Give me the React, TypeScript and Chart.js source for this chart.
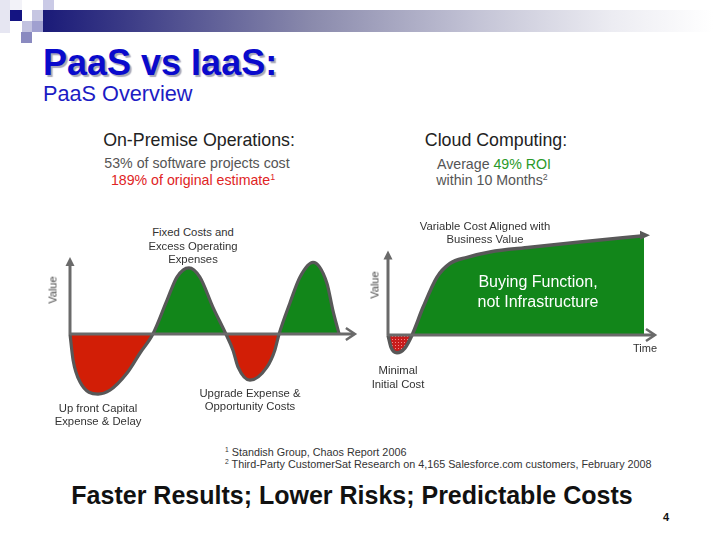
import React, { useEffect, useRef } from "react";
import { Chart, registerables } from "chart.js";

Chart.register(...registerables);

// ---- Data ----
// On-Premise Operations: value over time (arbitrary units, time 0..10)
const leftTime = [0, 0.11, 0.35, 0.99, 1.41, 2.01, 2.47, 2.93, 3.43, 3.78, 4.2, 4.59, 5.05, 5.51, 5.76, 5.94, 6.36, 6.96, 7.24, 7.39, 7.77, 8.13, 8.59, 9.08, 9.29, 9.51];
const leftValue = [0, -34, -62, -78, -73, -51, -25, 0, 44, 74, 86, 74, 35, 0, -21, -43, -60, -43, -21, 0, 40, 74, 93, 66, 31, 0];

// Cloud Computing: value over time
const rightTime = [0, 0.12, 0.35, 0.66, 0.94, 1.37, 1.91, 2.42, 3.09, 3.98, 5.55, 7.5, 10];
const rightValue = [0, -16, -23, -17, 0, 36, 75, 93, 101, 108, 114, 121, 129];

const FONT = "'Liberation Sans', Arial, Helvetica, sans-serif";
const GREEN = "#12861a";
const RED = "#d21e06";
const OUTLINE = "#585858";
const AXIS = "#6a6a6a";

const axesPlugin = {
  id: "axesArrows",
  afterDatasetsDraw(chart: any, _args: any, opts: any) {
    const { ctx, scales } = chart;
    const xs = scales.x;
    const ys = scales.y;
    const x0 = xs.getPixelForValue(0);
    const y0 = ys.getPixelForValue(0);
    const xe = xs.getPixelForValue(opts.xEnd);
    const yt = ys.getPixelForValue(opts.yEnd);
    ctx.save();
    ctx.strokeStyle = AXIS;
    ctx.fillStyle = AXIS;
    ctx.lineWidth = 3;
    ctx.lineCap = "butt";
    // x axis
    ctx.beginPath();
    ctx.moveTo(x0, y0);
    ctx.lineTo(xe - 1, y0);
    ctx.stroke();
    ctx.lineWidth = 2.5;
    ctx.beginPath();
    ctx.moveTo(xe - 9, y0 - 6);
    ctx.lineTo(xe, y0);
    ctx.lineTo(xe - 9, y0 + 6);
    ctx.stroke();
    // y axis
    ctx.lineWidth = 3;
    ctx.beginPath();
    ctx.moveTo(x0, y0);
    ctx.lineTo(x0, yt + 6);
    ctx.stroke();
    ctx.beginPath();
    ctx.moveTo(x0 - 4.5, yt + 9);
    ctx.lineTo(x0, yt);
    ctx.lineTo(x0 + 4.5, yt + 9);
    ctx.closePath();
    ctx.fill();
    // arrow at the end of the curve
    if (opts.curveArrow) {
      const meta = chart.getDatasetMeta(0);
      const pts = meta.data;
      const last = pts[pts.length - 1];
      const px = last.x + 4;
      const py = last.y;
      ctx.fillStyle = OUTLINE;
      ctx.beginPath();
      ctx.moveTo(px - 8, py - 5);
      ctx.lineTo(px + 2, py - 0.5);
      ctx.lineTo(px - 8, py + 4);
      ctx.closePath();
      ctx.fill();
    }
    ctx.restore();
  },
};

function makeDotPattern(): CanvasPattern | string {
  const pc = document.createElement("canvas");
  pc.width = 3;
  pc.height = 3;
  const p = pc.getContext("2d");
  if (!p) return RED;
  p.fillStyle = "#c81c1c";
  p.fillRect(0, 0, 3, 3);
  p.fillStyle = "#f08a8a";
  p.fillRect(1, 1, 1, 1);
  const pat = p.createPattern(pc, "repeat");
  return pat || RED;
}

type ChartBoxProps = {
  left: number;
  top: number;
  width: number;
  height: number;
  build: () => any;
};

function ChartBox({ left, top, width, height, build }: ChartBoxProps) {
  const ref = useRef<HTMLCanvasElement | null>(null);
  useEffect(() => {
    if (!ref.current) return;
    const chart = new Chart(ref.current, build());
    return () => chart.destroy();
  }, []);
  return (
    <canvas
      ref={ref}
      width={width}
      height={height}
      style={{ position: "absolute", left, top, width, height }}
    />
  );
}

function buildLeft() {
  return {
    type: "line",
    data: {
      datasets: [
        {
          data: leftTime.map((t, i) => ({ x: t, y: leftValue[i] })),
          borderColor: OUTLINE,
          borderWidth: 3.2,
          pointRadius: 0,
          cubicInterpolationMode: "monotone",
          fill: { target: "origin", above: GREEN, below: RED },
          clip: false,
        },
      ],
    },
    options: {
      responsive: false,
      animation: false,
      events: [],
      layout: { padding: { left: 30, right: 10, top: 17, bottom: 4 } },
      scales: {
        x: { type: "linear", min: 0, max: 10.25, display: false },
        y: { type: "linear", min: -100, max: 100, display: false },
      },
      plugins: {
        legend: { display: false },
        tooltip: { enabled: false },
        axesArrows: { xEnd: 10.07, yEnd: 100, curveArrow: false },
      },
    },
    plugins: [axesPlugin],
  };
}

function buildRight() {
  return {
    type: "line",
    data: {
      datasets: [
        {
          data: rightTime.map((t, i) => ({ x: t, y: rightValue[i] })),
          borderColor: OUTLINE,
          borderWidth: 3.5,
          pointRadius: 0,
          cubicInterpolationMode: "monotone",
          fill: { target: "origin", above: GREEN, below: makeDotPattern() },
          clip: false,
        },
      ],
    },
    options: {
      responsive: false,
      animation: false,
      events: [],
      layout: { padding: { left: 18, right: 10, top: 5, bottom: 5 } },
      scales: {
        x: { type: "linear", min: 0, max: 10.625, display: false },
        y: { type: "linear", min: -32.5, max: 130, display: false },
      },
      plugins: {
        legend: { display: false },
        tooltip: { enabled: false },
        axesArrows: { xEnd: 10.43, yEnd: 110, curveArrow: true },
      },
    },
    plugins: [axesPlugin],
  };
}

type TxtProps = {
  x: number;
  baseline: number;
  size: number;
  align?: "left" | "center";
  color?: string;
  bold?: boolean;
  children: React.ReactNode;
  style?: React.CSSProperties;
};

function Txt({ x, baseline, size, align = "center", color = "#333", bold, children, style }: TxtProps) {
  return (
    <div
      style={{
        position: "absolute",
        left: x,
        top: baseline - 0.8465 * size,
        fontSize: size,
        lineHeight: `${size}px`,
        fontFamily: FONT,
        fontWeight: bold ? 700 : 400,
        color,
        whiteSpace: "nowrap",
        transform: align === "center" ? "translateX(-50%)" : undefined,
        ...style,
      }}
    >
      {children}
    </div>
  );
}

function Rot({ cx, cy, size, children }: { cx: number; cy: number; size: number; children: React.ReactNode }) {
  return (
    <div
      style={{
        position: "absolute",
        left: cx,
        top: cy,
        fontSize: size,
        lineHeight: `${size}px`,
        fontFamily: FONT,
        color: "#444",
        whiteSpace: "nowrap",
        transform: "translate(-50%, -50%) rotate(-90deg)",
      }}
    >
      {children}
    </div>
  );
}

function Sq({ x, y, w, h, c }: { x: number; y: number; w: number; h: number; c: string }) {
  return <div style={{ position: "absolute", left: x, top: y, width: w, height: h, background: c }} />;
}

export default function App() {
  const sup = { fontSize: "0.62em", verticalAlign: "0.55em", lineHeight: 0 } as React.CSSProperties;
  return (
    <div
      style={{
        position: "absolute",
        left: 0,
        top: 0,
        width: 720,
        height: 540,
        background: "#ffffff",
        overflow: "hidden",
      }}
    >
      {/* header decoration */}
      <div
        style={{
          position: "absolute",
          left: 43,
          top: 10,
          width: 670,
          height: 22,
          background:
            "linear-gradient(to right, #1a1a78 0%, #3a3a86 12%, #8a8aac 40%, #c4c4d6 65%, #ececf2 85%, #ffffff 100%)",
        }}
      />
      <Sq x={0} y={0} w={10} h={33} c="#e6e6f2" />
      <Sq x={10} y={0} w={12} h={10} c="#f2f2f8" />
      <Sq x={10} y={10} w={12} h={11} c="#141482" />
      <Sq x={22} y={10} w={10} h={11} c="#ffffff" />
      <Sq x={32} y={10} w={11} h={11} c="#c6c6e2" />
      <Sq x={43} y={0} w={11} h={10} c="#cacae6" />
      <Sq x={22} y={21} w={10} h={11} c="#c2c2e0" />
      <Sq x={32} y={21} w={11} h={11} c="#a0a0d0" />
      <Sq x={21} y={32} w={11} h={11} c="#8a8ac0" />

      {/* titles */}
      <Txt x={43} baseline={75} size={36} align="left" bold color="#0a0acc" style={{ textShadow: "2px 2px 1px #a8a8b8" }}>
        PaaS vs IaaS:
      </Txt>
      <Txt x={43} baseline={101} size={21.7} align="left" color="#1c1cc4">
        PaaS Overview
      </Txt>

      {/* left panel headings */}
      <Txt x={199} baseline={147} size={17.8} color="#222">
        On-Premise Operations:
      </Txt>
      <Txt x={197} baseline={168} size={14.2} color="#555">
        53% of software projects cost
      </Txt>
      <Txt x={193} baseline={185} size={14.2} color="#e02424">
        189% of original estimate<span style={sup}>1</span>
      </Txt>

      {/* right panel headings */}
      <Txt x={496} baseline={147} size={17.8} color="#222">
        Cloud Computing:
      </Txt>
      <Txt x={494} baseline={169} size={14.2} color="#555">
        Average <span style={{ color: "#2a9a2a" }}>49% ROI</span>
      </Txt>
      <Txt x={492} baseline={185} size={14.2} color="#555">
        within 10 Months<span style={sup}>2</span>
      </Txt>

      {/* charts */}
      <ChartBox left={40} top={240} width={330} height={175} build={buildLeft} />
      <ChartBox left={370} top={230} width={300} height={135} build={buildRight} />

      {/* left annotations */}
      <Rot cx={53} cy={290} size={11}>Value</Rot>
      <Txt x={193} baseline={237} size={11.3}>Fixed Costs and</Txt>
      <Txt x={193} baseline={251} size={11.3}>Excess Operating</Txt>
      <Txt x={193} baseline={264} size={11.3}>Expenses</Txt>
      <Txt x={250} baseline={398} size={11.3}>Upgrade Expense &amp;</Txt>
      <Txt x={250} baseline={411} size={11.3}>Opportunity Costs</Txt>
      <Txt x={98} baseline={413} size={11.3}>Up front Capital</Txt>
      <Txt x={98} baseline={426} size={11.3}>Expense &amp; Delay</Txt>

      {/* right annotations */}
      <Rot cx={375} cy={285} size={11}>Value</Rot>
      <Txt x={485} baseline={231} size={11.3}>Variable Cost Aligned with</Txt>
      <Txt x={485} baseline={244} size={11.3}>Business Value</Txt>
      <Txt x={538} baseline={288} size={16} color="#ffffff">Buying Function,</Txt>
      <Txt x={538} baseline={308} size={16} color="#ffffff">not Infrastructure</Txt>
      <Txt x={645} baseline={352} size={11}>Time</Txt>
      <Txt x={398} baseline={375} size={11.3}>Minimal</Txt>
      <Txt x={398} baseline={389} size={11.3}>Initial Cost</Txt>

      {/* footnotes */}
      <Txt x={225} baseline={456} size={10.8} align="left">
        <span style={sup}>1</span> Standish Group, Chaos Report 2006
      </Txt>
      <Txt x={225} baseline={468} size={10.8} align="left">
        <span style={sup}>2</span> Third-Party CustomerSat Research on 4,165 Salesforce.com customers, February 2008
      </Txt>

      {/* bottom line */}
      <Txt x={352} baseline={504} size={25} bold color="#111">
        Faster Results; Lower Risks; Predictable Costs
      </Txt>
      <Txt x={663} baseline={521} size={11} align="left" bold color="#111">
        4
      </Txt>
    </div>
  );
}
